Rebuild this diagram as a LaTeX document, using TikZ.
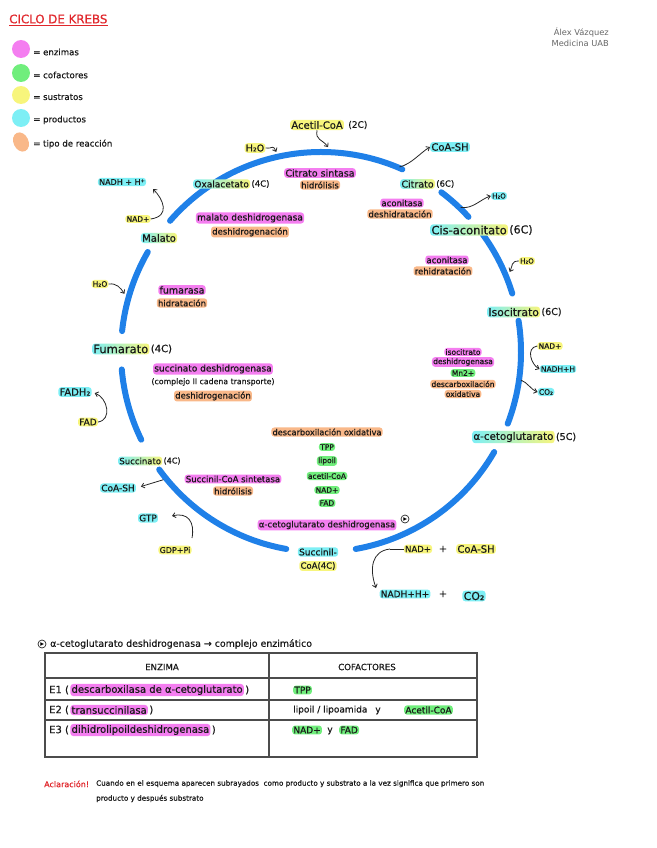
\documentclass[tikz,border=0pt]{standalone}
\usepackage{fontspec}
\setmainfont{DejaVu Sans}[FakeBold=0.6]
\newfontfamily\typedfont{DejaVu Sans}
\usetikzlibrary{arrows.meta,calc,shapes.geometric}
\definecolor{pinkc}{HTML}{F47EF0}
\definecolor{greenc}{HTML}{70EE7C}
\definecolor{yellowc}{HTML}{F7F57C}
\definecolor{cyanc}{HTML}{7DEFF5}
\definecolor{orangec}{HTML}{F9B889}
\definecolor{bluec}{HTML}{1F80E8}
\definecolor{redc}{HTML}{E0262B}
\newcommand{\fsz}[1]{\fontsize{#1}{#1}\selectfont}
\begin{document}
\begin{tikzpicture}[x=1pt,y=-1pt,
 hl/.style={inner sep=1.2pt, rounded corners=3pt, text=black!90},
 enzst/.style={hl, fill=pinkc, font=\fsz{#1}}, enzst/.default=8.5,
 tipst/.style={hl, fill=orangec, font=\fsz{#1}}, tipst/.default=8.5,
 cofst/.style={hl, fill=greenc, font=\fsz{#1}}, cofst/.default=7.5,
 susst/.style={hl, fill=yellowc, font=\fsz{#1}}, susst/.default=8,
 prost/.style={hl, fill=cyanc, font=\fsz{#1}}, prost/.default=8,
 metst/.style={hl, left color=cyanc, right color=yellowc, font=\fsz{#1}}, metst/.default=9.5,
 txt/.style={inner sep=1pt, text=black!90, font=\fsz{#1}}, txt/.default=8,
 ringarc/.style={line width=6pt, draw=bluec, line cap=round},
 arrowst/.style={line width=0.8pt, draw=black!85, -{Straight Barb[length=3pt,width=5pt]}},
 legdot/.style={circle, minimum size=18pt, inner sep=0pt},
 tableline/.style={line width=1.1pt, draw=black!70},
 emark/.style={circle, draw=black!85, line width=0.7pt, minimum size=8pt, inner sep=0pt, font=\fsz{4}},
]
\useasboundingbox (0,0) rectangle (656,848);

% ---------- title, legend, author ----------
\node[anchor=west, inner sep=0pt, text=redc, font=\fsz{11.8}] (title) at (9,19) {CICLO DE KREBS};
\draw[redc, line width=0.9pt] ($(title.south west)+(0,1.5)$) -- ($(title.south east)+(0,1.5)$);

\node[legdot, fill=pinkc] (lg1) at (21,49) {};
\node[legdot, fill=greenc] (lg2) at (21,73) {};
\node[legdot, fill=yellowc] (lg3) at (21,95) {};
\node[legdot, fill=cyanc] (lg4) at (21,118) {};
\node[ellipse, fill=orangec, minimum width=15pt, minimum height=20pt, inner sep=0pt, rotate=25] (lg5) at (21,142) {};
\node[txt=8.6, anchor=west] (lt1) at (32,52) {= enzimas};
\node[txt=8.6, anchor=west] (lt2) at (32,75) {= cofactores};
\node[txt=8.6, anchor=west] (lt3) at (32,97) {= sustratos};
\node[txt=8.6, anchor=west] (lt4) at (32,120) {= productos};
\node[txt=8.6, anchor=west] (lt5) at (32,144) {= tipo de reacción};

\node[anchor=east, align=right, inner sep=0pt, text=black!60, font=\typedfont\fsz{8.3}, execute at begin node={\baselineskip=11.5pt}] (author) at (609,37) {Álex Vázquez\\Medicina UAB};

% ---------- ring ----------
\coordinate (C) at (321,352);
\draw[ringarc] ($(C)+(-139:200)$) arc[start angle=-139, end angle=-66, radius=200];
\draw[ringarc] ($(C)+(-53:200)$) arc[start angle=-53, end angle=-42.5, radius=200];
\draw[ringarc] ($(C)+(-36:200)$) arc[start angle=-36, end angle=-17, radius=200];
\draw[ringarc] ($(C)+(-9:200)$) arc[start angle=-9, end angle=21, radius=200];
\draw[ringarc] ($(C)+(30:200)$) arc[start angle=30, end angle=80, radius=200];
\draw[ringarc] ($(C)+(100:200)$) arc[start angle=100, end angle=144, radius=200];
\draw[ringarc] ($(C)+(154:200)$) arc[start angle=154, end angle=175, radius=200];
\draw[ringarc] ($(C)+(-174:200)$) arc[start angle=-174, end angle=-150, radius=200];

% ---------- metabolites ----------
\node[metst=9, anchor=west] (oxa) at (193,184) {Oxalacetato};
\node[txt=8.5, anchor=west] (oxac) at (oxa.east) {(4C)};
\node[metst=9.5, anchor=west] (cit) at (400,184) {Citrato};
\node[txt=8.5, anchor=west] (citc) at (cit.east) {(6C)};
\node[metst=11.5, anchor=west] (cis) at (430,230) {Cis-aconitato};
\node[txt=11, anchor=west] (cisc) at (cis.east) {(6C)};
\node[metst=10.8, anchor=west] (iso) at (487,312) {Isocitrato};
\node[txt=9.5, anchor=west] (isoc) at (iso.east) {(6C)};
\node[metst=10.3, anchor=west] (akg) at (472,437) {α-cetoglutarato};
\node[txt=9.5, anchor=west] (akgc) at (akg.east) {(5C)};
\node[prost=9] (suc1) at (318,552) {Succinil-};
\node[susst=8.5] (suc2) at (318,566) {CoA(4C)};
\node[metst=8.5, anchor=west] (sct) at (118,461) {Succinato};
\node[txt=8, anchor=west] (sctc) at (sct.east) {(4C)};
\node[metst=11.5, anchor=west] (fum) at (92,349) {Fumarato};
\node[txt=10, anchor=west] (fumc) at (fum.east) {(4C)};
\node[metst=10] (mal) at (159,238) {Malato};

% ---------- substrates / products ----------
\node[susst=10, anchor=west] (acetil) at (290,125) {Acetil-CoA};
\node[txt=9, anchor=west] (acetilc) at ($(acetil.east)+(3,0)$) {(2C)};
\node[susst=9.5] (h2oA) at (255,148) {H₂O};
\node[prost=10] (coash1) at (450,147) {CoA-SH};
\node[prost=7] (h2oB) at (499,196) {H₂O};
\node[susst=7] (h2oC) at (527,261) {H₂O};
\node[susst=7.5] (nadI) at (550,346) {NAD+};
\node[prost=7.5] (nadhI) at (558,369) {NADH+H};
\node[prost=7.5] (co2I) at (546,392) {CO₂};
\node[susst=8.5] (nadS) at (418,549) {NAD+};
\node[txt=10] (plus1) at (443,549) {+};
\node[susst=10] (coashS) at (476,549) {CoA-SH};
\node[prost=9] (nadhS) at (405,594) {NADH+H+};
\node[txt=10] (plus2) at (443,594) {+};
\node[prost=11] (co2S) at (474,596) {CO₂};
\node[susst=8] (gdp) at (175,550) {GDP+Pi};
\node[prost=9] (gtp) at (148,518) {GTP};
\node[prost=9] (coash2) at (118,488) {CoA-SH};
\node[susst=9] (fad) at (88,422) {FAD};
\node[prost=10] (fadh) at (75,392) {FADH₂};
\node[susst=7.5] (h2oD) at (100,284) {H₂O};
\node[susst=7.5] (nadM) at (138,219) {NAD+};
\node[prost=8] (nadhM) at (122,182) {NADH + H⁺};

% ---------- enzymes / reaction types ----------
\node[enzst=9.5] (cs1) at (320,173) {Citrato sintasa};
\node[tipst=8.5] (cs2) at (320,185) {hidrólisis};
\node[enzst=8.5] (ac1) at (402,203) {aconitasa};
\node[tipst=8.5] (ac2) at (400,214) {deshidratación};
\node[enzst=8.5] (ac3) at (447,260) {aconitasa};
\node[tipst=8.5] (ac4) at (443,271) {rehidratación};
\node[enzst=7.5] (id1) at (463,352) {isocitrato};
\node[enzst=7.5] (id2) at (463,362) {deshidrogenasa};
\node[cofst=7.5] (id3) at (463,373) {Mn2+};
\node[tipst=7.5] (id4) at (463,384) {descarboxilación};
\node[tipst=7.5] (id5) at (463,394) {oxidativa};
\node[enzst=9] (md1) at (250,218) {malato deshidrogenasa};
\node[tipst=8.5] (md2) at (250,232) {deshidrogenación};
\node[enzst=9.5] (fu1) at (182,290) {fumarasa};
\node[tipst=8.5] (fu2) at (182,303) {hidratación};
\node[enzst=9] (sd1) at (213,369) {succinato deshidrogenasa};
\node[txt=7.8] (sd2) at (213,382) {(complejo II cadena transporte)};
\node[tipst=8.5] (sd3) at (213,396) {deshidrogenación};
\node[enzst=8.5] (sc1) at (233,479) {Succinil-CoA sintetasa};
\node[tipst=8.5] (sc2) at (233,491) {hidrólisis};
\node[tipst=8.2] (ak1) at (327,432) {descarboxilación oxidativa};
\node[cofst] (ak2) at (327,447) {TPP};
\node[cofst] (ak3) at (327,461) {lipoil};
\node[cofst] (ak4) at (327,476) {acetil-CoA};
\node[cofst] (ak5) at (327,490) {NAD+};
\node[cofst] (ak6) at (327,503) {FAD};
\node[enzst=8.5] (ak7) at (327,525) {α-cetoglutarato deshidrogenasa};
\node[emark] (em1) at (405,519) {▶};

% ---------- connectors ----------
\coordinate (pAc) at ($(C)+(-88:205)$);
\coordinate (pH2) at ($(C)+(-102.6:205)$);
\coordinate (pCo1) at ($(C)+(-67:201)$);
\coordinate (pH2b) at ($(C)+(-46:201)$);
\coordinate (pH2c) at ($(C)+(-23:205)$);
\coordinate (pCO2) at ($(C)+(8:202)$);
\coordinate (pCo2) at ($(C)+(141:203)$);
\coordinate (pH2d) at ($(C)+(-163.5:205)$);
\coordinate (sLine) at (390,549);
\coordinate (sEnd) at (376,588);
\coordinate (gStart) at (192,538);
\coordinate (gEnd) at (172,516);
\coordinate (mEnd) at (153,189);

\draw[arrowst] (acetil.south) .. controls +(-2,10) and +(-6,-8) .. (pAc);
\draw[arrowst] (h2oA.east) .. controls +(8,1) and +(-4,-8) .. (pH2);
\draw[arrowst] (pCo1) .. controls +(12,-3) and +(-10,6) .. (coash1.west);
\draw[arrowst] (pH2b) .. controls +(12,2) and +(-10,3) .. (h2oB.west);
\draw[arrowst] (h2oC.west) .. controls +(-8,0) and +(3,-6) .. (pH2c);
\draw[arrowst] (nadI.west) .. controls +(-12,2) and +(-8,-4) .. (nadhI.west);
\draw[arrowst] (pCO2) .. controls +(6,2) and +(-6,-2) .. (co2I.west);
\draw[line width=0.8pt, draw=black!85] (sLine) -- (nadS.west);
\draw[arrowst] (sLine) .. controls (372,551) and (369,568) .. (sEnd);
\draw[arrowst, shorten >=5pt] (pCo2) -- (coash2.east);
\draw[arrowst] (gStart) .. controls (195,522) and (188,512) .. (gEnd);
\draw[arrowst, shorten >=3pt] (fad.east) .. controls +(14,-2) and +(16,6) .. (fadh.east);
\draw[arrowst] (h2oD.east) .. controls +(8,-1) and +(-4,-6) .. (pH2d);
\draw[arrowst] (nadM.east) .. controls +(20,-3) and +(10,10) .. (mEnd);

% ---------- table ----------
\node[emark] (em2) at (42,644) {▶};
\node[txt=9.4, anchor=west] (thead) at (49,644) {α-cetoglutarato deshidrogenasa → complejo enzimático};
\draw[tableline] (45,653) rectangle (477,757);
\draw[tableline] (45,678) -- (477,678);
\draw[tableline] (45,700) -- (477,700);
\draw[tableline] (45,720) -- (477,720);
\draw[tableline] (269,653) -- (269,757);
\node[txt=8.6] (th1) at (162,667) {ENZIMA};
\node[txt=8.6] (th2) at (367,667) {COFACTORES};
\node[txt=10, anchor=west] (r1a) at (48,690) {E1 (};
\node[enzst=10, anchor=west] (r1b) at (r1a.east) {descarboxilasa de α-cetoglutarato};
\node[txt=10, anchor=west] (r1c) at (r1b.east) {)};
\node[txt=10, anchor=west] (r2a) at (48,710) {E2 (};
\node[enzst=10, anchor=west] (r2b) at (r2a.east) {transuccinilasa};
\node[txt=10, anchor=west] (r2c) at (r2b.east) {)};
\node[txt=10, anchor=west] (r3a) at (48,730) {E3 (};
\node[enzst=10, anchor=west] (r3b) at (r3a.east) {dihidrolipoildeshidrogenasa};
\node[txt=10, anchor=west] (r3c) at (r3b.east) {)};
\node[cofst=9, anchor=west] (c1) at (293,690) {TPP};
\node[txt=9, anchor=west] (c2a) at (292,710) {lipoil / lipoamida};
\node[txt=9] (c2b) at (378,711) {y};
\node[cofst=9, anchor=west] (c2c) at (404,710) {Acetil-CoA};
\node[cofst=9, anchor=west] (c3a) at (292,730) {NAD+};
\node[txt=9] (c3b) at (330,731) {y};
\node[cofst=9, anchor=west] (c3c) at (339,730) {FAD};

% ---------- footer ----------
\node[txt=8, anchor=west, text=redc] (acl) at (43,784) {Aclaración!};
\node[txt=7.2, anchor=north west, align=left, execute at begin node={\baselineskip=15pt}] (foot) at (95,779) {Cuando en el esquema aparecen subrayados\ \ como producto y substrato a la vez significa que primero son\\producto y después substrato};
\end{tikzpicture}
\end{document}
